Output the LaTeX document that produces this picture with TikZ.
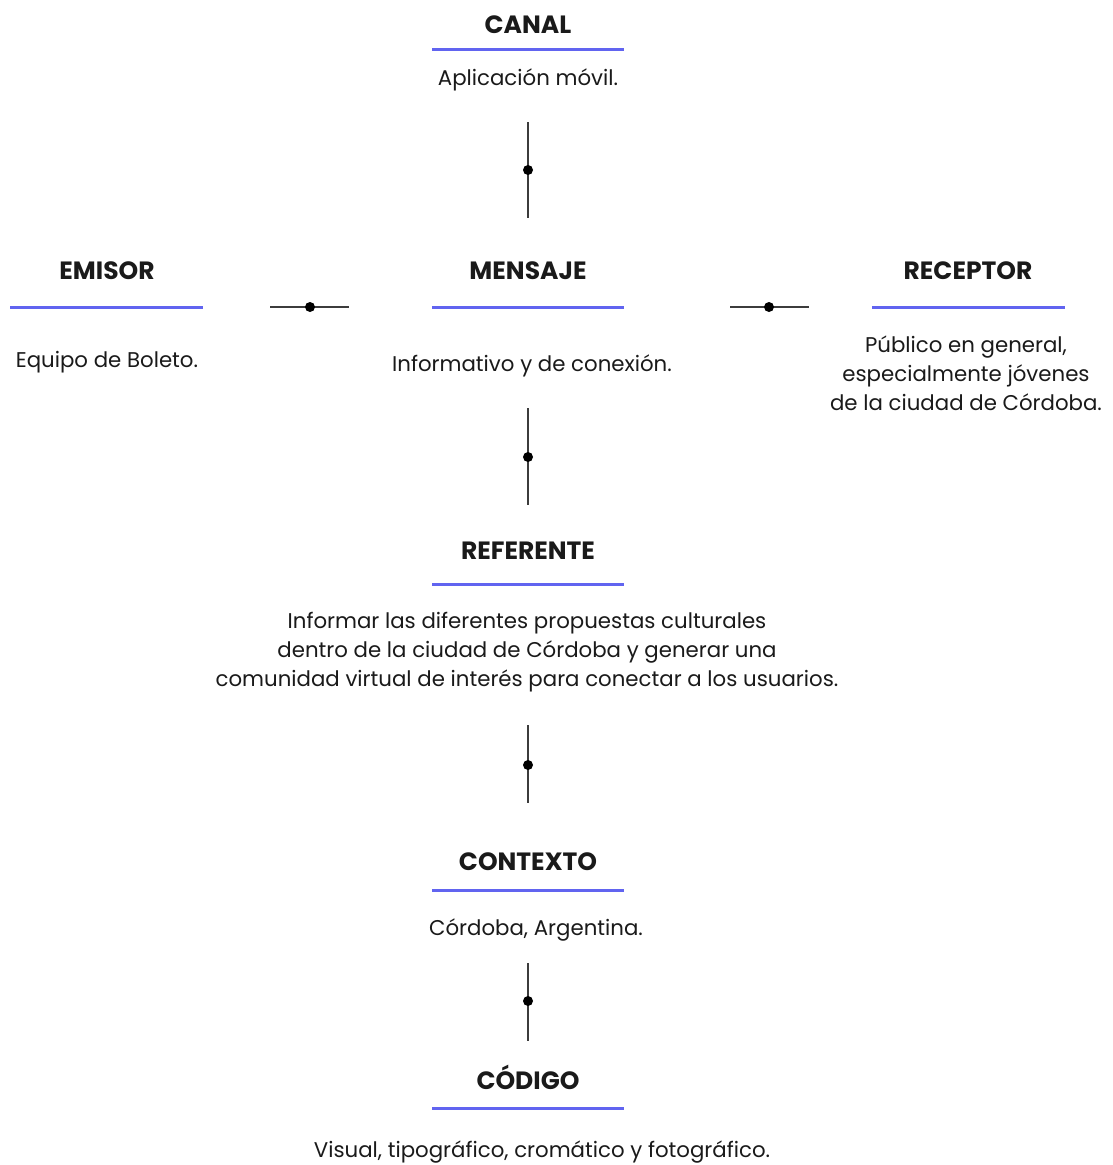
\documentclass[tikz,border=0pt]{standalone}
\usepackage{fontspec}
\setmainfont{Poppins}
\definecolor{accent}{HTML}{6164F0}
\definecolor{ink}{HTML}{1A1A1A}
\begin{document}
\begin{tikzpicture}[x=1pt,y=-1pt,
  title/.style={font=\fontsize{25}{29}\selectfont\bfseries, text=ink, anchor=center, inner sep=0pt},
  body/.style={font=\fontsize{21.3}{29}\selectfont, text=ink, anchor=center, align=center, inner sep=0pt},
  rule/.style={draw=accent, line width=3pt},
  conn/.style={draw=ink!85, line width=2pt},
  dotc/.style={fill=black, circle, inner sep=0pt, minimum size=10pt}
]
\useasboundingbox[fill=white] (0,0) rectangle (1113,1165);

% CANAL
\node[title] (tcanal) at (528,25) {CANAL};
\coordinate (lcanalA) at (432,49); \coordinate (lcanalB) at (624,49);
\draw[rule] (lcanalA) -- (lcanalB);
\node[body] (bcanal) at (528,80) {Aplicación móvil.};

% connector canal-mensaje
\coordinate (c1a) at (528,122); \coordinate (c1b) at (528,218);
\draw[conn] (c1a) -- (c1b);
\node[dotc] (d1) at (528,170) {};

% EMISOR
\node[title] (temisor) at (107,271) {EMISOR};
\coordinate (lemA) at (10,307); \coordinate (lemB) at (203,307);
\draw[rule] (lemA) -- (lemB);
\node[body] (bemisor) at (107,362) {Equipo de Boleto.};

% connector emisor-mensaje
\coordinate (c2a) at (270,307); \coordinate (c2b) at (349,307);
\draw[conn] (c2a) -- (c2b);
\node[dotc] (d2) at (310,307) {};

% MENSAJE
\node[title] (tmensaje) at (528,271) {MENSAJE};
\coordinate (lmeA) at (432,307); \coordinate (lmeB) at (624,307);
\draw[rule] (lmeA) -- (lmeB);
\node[body] (bmensaje) at (532,366) {Informativo y de conexión.};

% connector mensaje-receptor
\coordinate (c3a) at (730,307); \coordinate (c3b) at (809,307);
\draw[conn] (c3a) -- (c3b);
\node[dotc] (d3) at (769,307) {};

% RECEPTOR
\node[title] (treceptor) at (968,271) {RECEPTOR};
\coordinate (lreA) at (872,307); \coordinate (lreB) at (1065,307);
\draw[rule] (lreA) -- (lreB);
\node[body] (breceptor) at (966,373) {Público en general,\\especialmente jóvenes\\de la ciudad de Córdoba.};

% connector mensaje-referente
\coordinate (c4a) at (528,408); \coordinate (c4b) at (528,505);
\draw[conn] (c4a) -- (c4b);
\node[dotc] (d4) at (528,457) {};

% REFERENTE
\node[title] (treferente) at (528,551) {REFERENTE};
\coordinate (lrfA) at (432,584); \coordinate (lrfB) at (624,584);
\draw[rule] (lrfA) -- (lrfB);
\node[body] (breferente) at (527,652) {Informar las diferentes propuestas culturales\\dentro de la ciudad de Córdoba y generar una\\comunidad virtual de interés para conectar a los usuarios.};

% connector referente-contexto
\coordinate (c5a) at (528,725); \coordinate (c5b) at (528,803);
\draw[conn] (c5a) -- (c5b);
\node[dotc] (d5) at (528,765) {};

% CONTEXTO
\node[title] (tcontexto) at (528,862) {CONTEXTO};
\coordinate (lcoA) at (432,890); \coordinate (lcoB) at (624,890);
\draw[rule] (lcoA) -- (lcoB);
\node[body] (bcontexto) at (536,930) {Córdoba, Argentina.};

% connector contexto-codigo
\coordinate (c6a) at (528,963); \coordinate (c6b) at (528,1041);
\draw[conn] (c6a) -- (c6b);
\node[dotc] (d6) at (528,1001) {};

% CODIGO
\node[title] (tcodigo) at (528,1077) {CÓDIGO};
\coordinate (lcdA) at (432,1108); \coordinate (lcdB) at (624,1108);
\draw[rule] (lcdA) -- (lcdB);
\node[body] (bcodigo) at (542,1152) {Visual, tipográfico, cromático y fotográfico.};
\end{tikzpicture}
\end{document}
